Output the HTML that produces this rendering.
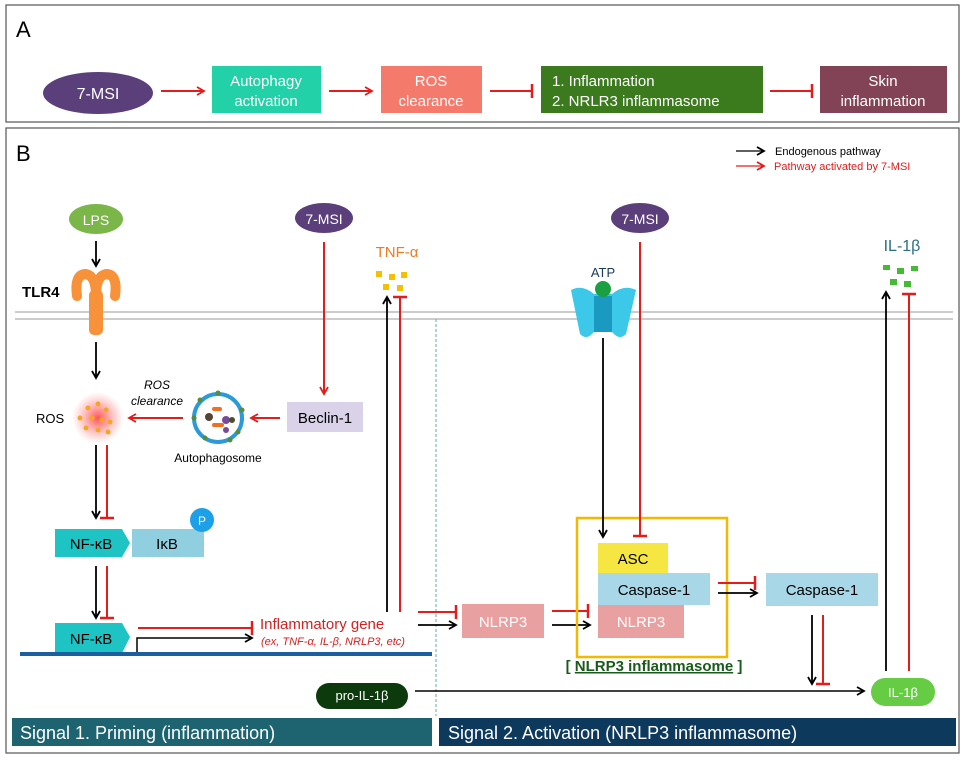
<!DOCTYPE html>
<html><head><meta charset="utf-8"><style>
html,body{margin:0;padding:0;background:#fff}
svg{display:block;font-family:"Liberation Sans",sans-serif}
</style></head><body>
<svg width="966" height="764" viewBox="0 0 966 764" xmlns="http://www.w3.org/2000/svg">
<defs>
<marker id="ab" markerWidth="10" markerHeight="10" refX="8" refY="5" orient="auto" markerUnits="userSpaceOnUse"><path d="M1,1 L8,5 L1,9" fill="none" stroke="#000" stroke-width="1.8"/></marker>
<marker id="ar" markerWidth="10" markerHeight="10" refX="8" refY="5" orient="auto" markerUnits="userSpaceOnUse"><path d="M1,1 L8,5 L1,9" fill="none" stroke="#e51c1c" stroke-width="1.8"/></marker>
<marker id="tr" markerWidth="4" markerHeight="14" refX="2" refY="7" orient="auto" markerUnits="userSpaceOnUse"><path d="M2,0 L2,14" stroke="#e51c1c" stroke-width="2.5"/></marker>
<radialGradient id="rg"><stop offset="0" stop-color="#ff4040" stop-opacity=".9"/><stop offset="1" stop-color="#ff8080" stop-opacity="0"/></radialGradient>
</defs>
<!-- Panel A -->
<rect x="6" y="5" width="953" height="117" fill="#fff" stroke="#555" stroke-width="1.2"/>
<text x="16" y="37" font-size="22">A</text>
<ellipse cx="98" cy="93" rx="55" ry="21" fill="#5b3f7a"/>
<text x="98" y="99" font-size="16" fill="#fff" text-anchor="middle">7-MSI</text>
<rect x="212" y="66" width="109" height="47" fill="#22d1a8"/>
<text x="266" y="86" font-size="15" fill="#fff" text-anchor="middle">Autophagy</text>
<text x="266" y="106" font-size="15" fill="#fff" text-anchor="middle">activation</text>
<rect x="381" y="66" width="101" height="47" fill="#f47a6c"/>
<text x="431" y="86" font-size="15" fill="#fff" text-anchor="middle">ROS</text>
<text x="431" y="106" font-size="15" fill="#fff" text-anchor="middle">clearance</text>
<rect x="541" y="66" width="222" height="47" fill="#3c7a1e"/>
<text x="552" y="86" font-size="15" fill="#fff">1. Inflammation</text>
<text x="552" y="106" font-size="15" fill="#fff">2. NRLR3 inflammasome</text>
<rect x="820" y="66" width="127" height="47" fill="#834357"/>
<text x="883" y="86" font-size="15" fill="#fff" text-anchor="middle">Skin</text>
<text x="883" y="106" font-size="15" fill="#fff" text-anchor="middle">inflammation</text>
<g stroke="#e51c1c" stroke-width="2" fill="none">
<line x1="161" y1="91" x2="204" y2="91" marker-end="url(#ar)"/>
<line x1="329" y1="91" x2="372" y2="91" marker-end="url(#ar)"/>
<line x1="490" y1="91" x2="532" y2="91" marker-end="url(#tr)"/>
<line x1="770" y1="91" x2="812" y2="91" marker-end="url(#tr)"/>
</g>
<!-- Panel B -->
<rect x="6" y="128" width="953" height="625" fill="#fff" stroke="#555" stroke-width="1.2"/>
<text x="16" y="161" font-size="22">B</text>
<line x1="736" y1="151" x2="764" y2="151" stroke="#000" stroke-width="1.3" marker-end="url(#ab)"/>
<text x="775" y="155" font-size="11">Endogenous pathway</text>
<line x1="736" y1="166" x2="764" y2="166" stroke="#e51c1c" stroke-width="1.3" marker-end="url(#ar)"/>
<text x="774" y="170" font-size="11" fill="#e51c1c">Pathway activated by 7-MSI</text>
<line x1="15" y1="312" x2="953" y2="312" stroke="#bbb" stroke-width="1.5"/>
<line x1="15" y1="319" x2="953" y2="319" stroke="#bbb" stroke-width="1.5"/>
<line x1="436" y1="319" x2="436" y2="716" stroke="#6aa" stroke-width="1" stroke-dasharray="3,2"/>
<!-- LPS / TLR4 -->
<ellipse cx="96" cy="219" rx="27" ry="15" fill="#7ab648"/>
<text x="96" y="225" font-size="14" fill="#fff" text-anchor="middle">LPS</text>
<line x1="96" y1="241" x2="96" y2="266" stroke="#000" stroke-width="1.8" marker-end="url(#ab)"/>
<text x="22" y="297" font-size="15" font-weight="bold">TLR4</text>
<path d="M77,296 Q74,274 86,274 Q96,276 96,296 M115,296 Q118,274 106,274 Q96,276 96,296" fill="none" stroke="#f7913a" stroke-width="10" stroke-linecap="round"/>
<rect x="89" y="290" width="14" height="45" rx="5" fill="#f7913a"/>
<line x1="96" y1="342" x2="96" y2="378" stroke="#000" stroke-width="1.8" marker-end="url(#ab)"/>
<!-- ROS -->
<circle cx="98" cy="418" r="26" fill="url(#rg)"/>
<g fill="#f5a623"><circle cx="88" cy="408" r="2.5"/><circle cx="98" cy="404" r="2.5"/><circle cx="106" cy="410" r="2.5"/><circle cx="92" cy="418" r="2.5"/><circle cx="102" cy="420" r="2.5"/><circle cx="110" cy="422" r="2.5"/><circle cx="86" cy="428" r="2.5"/><circle cx="98" cy="430" r="2.5"/><circle cx="80" cy="418" r="2.5"/><circle cx="108" cy="432" r="2.5"/></g>
<text x="36" y="423" font-size="13">ROS</text>
<text x="157" y="389" font-size="12" font-style="italic" text-anchor="middle">ROS</text>
<text x="157" y="405" font-size="12" font-style="italic" text-anchor="middle">clearance</text>
<line x1="183" y1="418" x2="129" y2="418" stroke="#e51c1c" stroke-width="2" marker-end="url(#ar)"/>
<circle cx="218" cy="418" r="24" fill="#fff" stroke="#2b9ad8" stroke-width="4"/>
<g fill="#5a8a3a"><circle cx="218" cy="393" r="2.5"/><circle cx="242" cy="410" r="2.5"/><circle cx="194" cy="418" r="2.5"/><circle cx="230" cy="440" r="2.5"/><circle cx="205" cy="438" r="2.5"/><circle cx="200" cy="400" r="2.5"/><circle cx="238" cy="432" r="2.5"/></g>
<rect x="212" y="407" width="10" height="4" rx="2" fill="#f07020"/><rect x="212" y="423" width="12" height="4" rx="2" fill="#f07020"/>
<circle cx="209" cy="417" r="4" fill="#554433"/><circle cx="226" cy="420" r="4" fill="#7a4a9a"/><circle cx="226" cy="430" r="3" fill="#7a4a9a"/><circle cx="232" cy="420" r="3" fill="#445522"/>
<text x="218" y="462" font-size="12" text-anchor="middle">Autophagosome</text>
<line x1="280" y1="418" x2="251" y2="418" stroke="#e51c1c" stroke-width="2" marker-end="url(#ar)"/>
<rect x="287" y="402" width="76" height="30" fill="#d9d2e9"/>
<text x="325" y="423" font-size="15" text-anchor="middle">Beclin-1</text>
<ellipse cx="324" cy="218" rx="29" ry="15" fill="#5b3f7a"/>
<text x="324" y="224" font-size="14" fill="#fff" text-anchor="middle">7-MSI</text>
<line x1="324" y1="242" x2="324" y2="394" stroke="#e51c1c" stroke-width="2" marker-end="url(#ar)"/>
<!-- TNF -->
<text x="397" y="257" font-size="15" fill="#f07a20" text-anchor="middle">TNF-α</text>
<g fill="#f5c000"><rect x="376" y="271" width="6" height="6"/><rect x="389" y="274" width="6" height="6"/><rect x="401" y="272" width="6" height="6"/><rect x="383" y="284" width="6" height="6"/><rect x="397" y="285" width="6" height="6"/></g>
<line x1="387" y1="612" x2="387" y2="297" stroke="#000" stroke-width="1.8" marker-end="url(#ab)"/>
<line x1="400" y1="612" x2="400" y2="297" stroke="#e51c1c" stroke-width="2" marker-end="url(#tr)"/>
<!-- NF-kB -->
<line x1="96" y1="445" x2="96" y2="518" stroke="#000" stroke-width="1.8" marker-end="url(#ab)"/>
<line x1="107" y1="445" x2="107" y2="518" stroke="#e51c1c" stroke-width="2" marker-end="url(#tr)"/>
<path d="M132,529 L204,529 L204,557 L132,557 Z" fill="#8fcfe0"/>
<path d="M55,529 L122,529 L130,543 L122,557 L55,557 Z" fill="#1ec4c4"/>
<text x="91" y="549" font-size="15" text-anchor="middle">NF-κB</text>
<text x="167" y="549" font-size="15" text-anchor="middle">IκB</text>
<circle cx="202" cy="520" r="12" fill="#1ca0e8"/>
<text x="202" y="525" font-size="12" fill="#fff" text-anchor="middle">P</text>
<line x1="96" y1="566" x2="96" y2="618" stroke="#000" stroke-width="1.8" marker-end="url(#ab)"/>
<line x1="107" y1="566" x2="107" y2="618" stroke="#e51c1c" stroke-width="2" marker-end="url(#tr)"/>
<path d="M55,623 L122,623 L130,637 L122,653 L55,653 Z" fill="#1ec4c4"/>
<text x="91" y="644" font-size="15" text-anchor="middle">NF-κB</text>
<rect x="20" y="652" width="412" height="4" fill="#1c5fa0"/>
<line x1="138" y1="628" x2="252" y2="628" stroke="#e51c1c" stroke-width="2" marker-end="url(#tr)"/>
<path d="M137,652 L137,638 L252,638" fill="none" stroke="#000" stroke-width="1.5" marker-end="url(#ab)"/>
<text x="260" y="629" font-size="15" fill="#d42020">Inflammatory gene</text>
<text x="261" y="645" font-size="11" font-style="italic" fill="#d42020">(ex, TNF-α, IL-β, NRLP3, etc)</text>
<line x1="418" y1="612" x2="456" y2="612" stroke="#e51c1c" stroke-width="2" marker-end="url(#tr)"/>
<line x1="418" y1="625" x2="456" y2="625" stroke="#000" stroke-width="1.8" marker-end="url(#ab)"/>
<rect x="462" y="604" width="82" height="34" fill="#e8a0a0"/>
<text x="503" y="627" font-size="15" fill="#fff" text-anchor="middle">NLRP3</text>
<line x1="552" y1="611" x2="588" y2="611" stroke="#e51c1c" stroke-width="2" marker-end="url(#tr)"/>
<line x1="552" y1="625" x2="590" y2="625" stroke="#000" stroke-width="1.8" marker-end="url(#ab)"/>
<!-- inflammasome -->
<rect x="577" y="518" width="150" height="139" fill="none" stroke="#f5b800" stroke-width="2.5"/>
<rect x="598" y="543" width="70" height="31" fill="#f5e642"/>
<text x="633" y="564" font-size="15" text-anchor="middle">ASC</text>
<rect x="598" y="573" width="112" height="32" fill="#a8d8e8"/>
<text x="654" y="595" font-size="15" text-anchor="middle">Caspase-1</text>
<rect x="598" y="605" width="86" height="33" fill="#e8a0a0"/>
<text x="641" y="627" font-size="15" fill="#fff" text-anchor="middle">NLRP3</text>
<text x="654" y="671" font-size="15" font-weight="bold" fill="#1a5a1a" text-anchor="middle">[ <tspan text-decoration="underline">NLRP3 inflammasome</tspan> ]</text>
<!-- ATP -->
<text x="603" y="277" font-size="13" fill="#1a3a5a" text-anchor="middle">ATP</text>
<path d="M571,290 Q582,284 594,294 L612,294 Q624,284 636,290 L626,334 Q620,340 614,334 L612,332 L594,332 L592,334 Q586,340 580,334 Z" fill="#3cc8e8"/>
<rect x="594" y="296" width="18" height="36" fill="#1a9ac0"/>
<circle cx="603" cy="289" r="8" fill="#1aa040"/>
<line x1="603" y1="338" x2="603" y2="537" stroke="#000" stroke-width="1.8" marker-end="url(#ab)"/>
<ellipse cx="640" cy="218" rx="29" ry="15" fill="#5b3f7a"/>
<text x="640" y="224" font-size="14" fill="#fff" text-anchor="middle">7-MSI</text>
<line x1="640" y1="242" x2="640" y2="536" stroke="#e51c1c" stroke-width="2" marker-end="url(#tr)"/>
<line x1="718" y1="583" x2="755" y2="583" stroke="#e51c1c" stroke-width="2" marker-end="url(#tr)"/>
<line x1="718" y1="593" x2="757" y2="593" stroke="#000" stroke-width="1.8" marker-end="url(#ab)"/>
<rect x="766" y="573" width="112" height="33" fill="#a8d8e8"/>
<text x="822" y="595" font-size="15" text-anchor="middle">Caspase-1</text>
<line x1="812" y1="615" x2="812" y2="684" stroke="#000" stroke-width="1.8" marker-end="url(#ab)"/>
<line x1="823" y1="615" x2="823" y2="684" stroke="#e51c1c" stroke-width="2" marker-end="url(#tr)"/>
<!-- IL-1b -->
<rect x="316" y="683" width="92" height="26" rx="13" fill="#0c3a0c"/>
<text x="362" y="700" font-size="13" fill="#fff" text-anchor="middle">pro-IL-1β</text>
<line x1="415" y1="691" x2="864" y2="691" stroke="#000" stroke-width="1.6" marker-end="url(#ab)"/>
<rect x="871" y="678" width="64" height="28" rx="14" fill="#66cc44"/>
<text x="903" y="697" font-size="13" fill="#fff" text-anchor="middle">IL-1β</text>
<line x1="886" y1="671" x2="886" y2="292" stroke="#000" stroke-width="1.8" marker-end="url(#ab)"/>
<line x1="909" y1="671" x2="909" y2="294" stroke="#e51c1c" stroke-width="2" marker-end="url(#tr)"/>
<text x="902" y="251" font-size="16" fill="#2a6f80" text-anchor="middle">IL-1β</text>
<g fill="#44bb33"><rect x="883" y="265" width="7" height="5"/><rect x="897" y="268" width="7" height="6"/><rect x="911" y="266" width="7" height="5"/><rect x="890" y="279" width="7" height="6"/><rect x="904" y="281" width="7" height="6"/></g>
<!-- bottom bars -->
<rect x="12" y="718" width="420" height="28" fill="#1e6470"/>
<text x="20" y="739" font-size="18" fill="#fff">Signal 1. Priming (inflammation)</text>
<rect x="439" y="718" width="517" height="28" fill="#0d3a5c"/>
<text x="448" y="739" font-size="18" fill="#fff">Signal 2. Activation (NRLP3 inflammasome)</text>
</svg>
</body></html>
